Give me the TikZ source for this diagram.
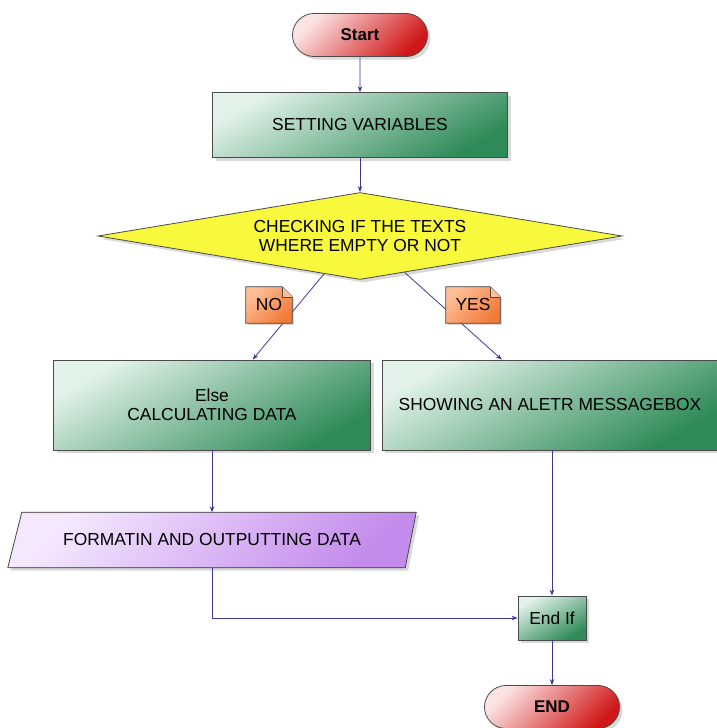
\documentclass[tikz,border=0pt]{standalone}
\usepackage{fontspec}
\setmainfont{Liberation Sans}
\usetikzlibrary{shapes.geometric,shapes.misc,shadows,arrows.meta,calc}
\definecolor{redL}{HTML}{FCE4E4}
\definecolor{redM}{HTML}{EC7C7C}
\definecolor{redD}{HTML}{D01818}
\definecolor{grnL}{HTML}{E2F2EA}
\definecolor{grnM}{HTML}{90C9AC}
\definecolor{grnD}{HTML}{2E8A58}
\definecolor{yel}{HTML}{F8F83C}
\definecolor{orL}{HTML}{FFC098}
\definecolor{orD}{HTML}{F27A38}
\definecolor{purL}{HTML}{F4E8FF}
\definecolor{purD}{HTML}{C48CEC}
\definecolor{edgeC}{HTML}{4A4A4A}
\definecolor{arrC}{HTML}{3A3A96}
\tikzset{
  base/.style={draw=edgeC, line width=0.8pt, font=\fontsize{17.4}{20}\selectfont, align=center, inner sep=0pt,
    drop shadow={opacity=0.3, shadow xshift=3pt, shadow yshift=-3pt}},
  pill/.style={base, rounded rectangle, top color=redL, middle color=redM, bottom color=redD, shading angle=45,
    minimum width=135pt, minimum height=43pt, font=\fontsize{17}{20}\selectfont\bfseries},
  proc/.style={base, rectangle, top color=grnL, middle color=grnM, bottom color=grnD, shading angle=30},
  link/.style={draw=arrC, line width=0.8pt, -{Stealth[length=6pt,width=4.5pt]}},
  notebox/.style={draw=edgeC, line width=0.8pt, top color=orL, bottom color=orD, shading angle=45,
    drop shadow={opacity=0.3, shadow xshift=2pt, shadow yshift=-2pt}},
  notetext/.style={inner sep=0pt, minimum width=46pt, minimum height=36pt, font=\fontsize{17.4}{20}\selectfont}
}
\begin{document}
\begin{tikzpicture}[x=1pt,y=-1pt]
\useasboundingbox (0,0) rectangle (716,728);
% nodes
\node[pill] (start) at (360,35) {Start};
\node[proc, minimum width=295pt, minimum height=65pt] (set) at (360,125) {SETTING VARIABLES};
\node[base, diamond, aspect=6, fill=yel, minimum width=524pt, minimum height=87pt] (chk) at (360,236)
  {CHECKING IF THE TEXTS\\[-1pt]WHERE EMPTY OR NOT};
\node[proc, minimum width=317pt, minimum height=90pt] (else) at (212,405) {Else\\[-1pt]CALCULATING DATA};
\node[proc, minimum width=336pt, minimum height=90pt] (show) at (550,405) {SHOWING AN ALETR MESSAGEBOX};
% parallelogram
\node[inner sep=0pt, minimum width=400pt, minimum height=55pt] (out) at (212,540) {};
\filldraw[draw=edgeC, line width=0.8pt, top color=purL, bottom color=purD, shading angle=45,
  drop shadow={opacity=0.3, shadow xshift=3pt, shadow yshift=-3pt}]
  ($(out.north west)+(10,0)$) -- ($(out.north east)+(4,0)$) -- ($(out.south east)+(-7,0)$) -- ($(out.south west)+(-4,0)$) -- cycle;
\node[font=\fontsize{17.4}{20}\selectfont] at (out.center) {FORMATIN AND OUTPUTTING DATA};
\node[proc, minimum width=68pt, minimum height=44pt] (endif) at (552,618) {End If};
\node[pill] (end) at (552,707) {END};
% connectors
\draw[link] (start) -- (set);
\draw[link] (set) -- (chk);
\coordinate (noA) at ($(chk.south)!0.137!(chk.west)$);
\coordinate (noB) at ($(else.north west)!0.628!(else.north east)$);
\coordinate (yesA) at ($(chk.south)!0.17!(chk.east)$);
\coordinate (yesB) at ($(show.north west)!0.357!(show.north east)$);
\draw[link] (noA) -- (noB);
\draw[link] (yesA) -- (yesB);
\draw[link] (else.south) -- (out.north);
\coordinate (sx) at (show.south -| endif.north);
\draw[link] (sx) -- (endif.north);
\draw[link] (out.south) |- (endif.west);
\draw[link] (endif.south) -- (end.north);
% notes
\node[notetext] (no) at (269,305) {};
\filldraw[notebox] (no.north west) -- ($(no.north east)+(-10,0)$) -- ($(no.north east)+(0,10)$) -- (no.south east) -- (no.south west) -- cycle;
\draw[draw=edgeC, line width=0.6pt, fill=orL] ($(no.north east)+(-10,0)$) -- ($(no.north east)+(-10,10)$) -- ($(no.north east)+(0,10)$);
\node[notetext] at (no.center) {NO};
\node[notetext, minimum width=54pt] (yes) at (473,305) {};
\filldraw[notebox] (yes.north west) -- ($(yes.north east)+(-10,0)$) -- ($(yes.north east)+(0,10)$) -- (yes.south east) -- (yes.south west) -- cycle;
\draw[draw=edgeC, line width=0.6pt, fill=orL] ($(yes.north east)+(-10,0)$) -- ($(yes.north east)+(-10,10)$) -- ($(yes.north east)+(0,10)$);
\node[notetext, minimum width=54pt] at (yes.center) {YES};
\end{tikzpicture}
\end{document}
